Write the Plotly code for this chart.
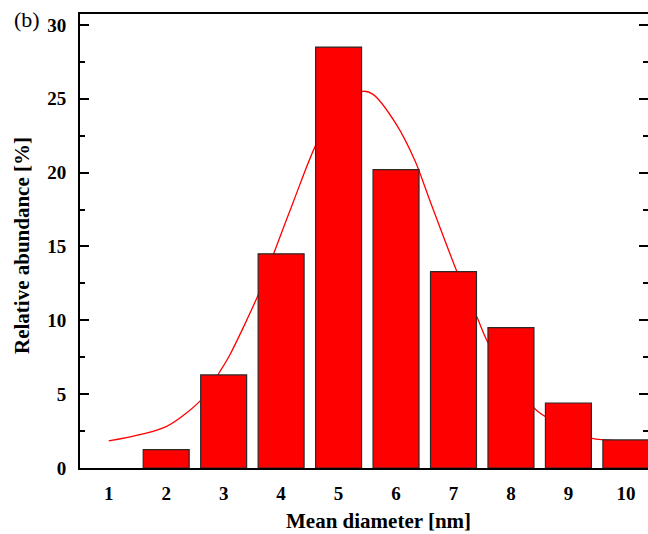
import plotly.graph_objects as go

# Histogram data (bars)
diameters = [2, 3, 4, 5, 6, 7, 8, 9, 10]
abundance = [1.25, 6.3, 14.5, 28.5, 20.2, 13.3, 9.5, 4.4, 1.9]

# Fitted curve
fit_x = [1.0, 2.0, 2.63, 2.93, 3.1, 3.61, 3.87, 4.22, 4.62, 5.0, 5.42, 5.6, 6.0, 6.33, 6.59, 7.07, 7.41, 7.6, 8.0, 8.42, 8.63, 9.0, 9.41, 9.62, 10.0]
fit_y = [1.83, 2.8, 4.7, 6.5, 7.6, 11.8, 14.5, 18.1, 22.0, 24.3, 25.5, 25.3, 23.3, 20.8, 18.1, 13.2, 10.2, 8.5, 6.2, 4.0, 3.4, 2.6, 2.0, 1.9, 1.8]

x_ticks = [1, 2, 3, 4, 5, 6, 7, 8, 9, 10]
y_ticks = [0, 5, 10, 15, 20, 25, 30]

X_RANGE = [0.5, 10.385]
Y_RANGE = [0, 30.74]

FONT = "Liberation Serif"

fig = go.Figure()

# curve first, on the base subplot (drawn below bars)
fig.add_trace(go.Scatter(
    x=fit_x, y=fit_y, mode="lines",
    line=dict(color="#ff0000", width=1.3, shape="spline", smoothing=0.8),
    xaxis="x", yaxis="y", showlegend=False, hoverinfo="skip",
))

# bars on overlay subplot (drawn above)
fig.add_trace(go.Bar(
    x=diameters, y=abundance, width=0.8,
    marker=dict(color="#ff0000", line=dict(color="#2a2a2a", width=1.2)),
    xaxis="x2", yaxis="y2", showlegend=False,
))

fig.update_layout(
    width=648, height=534,
    margin=dict(l=80, r=0, t=14, b=66),
    paper_bgcolor="white", plot_bgcolor="white",
    font=dict(family=FONT, color="black"),
    xaxis=dict(
        range=X_RANGE, tickmode="array", tickvals=x_ticks,
        ticks="", showgrid=False, zeroline=False,
        showline=True, linecolor="black", linewidth=2, mirror=True,
        tickfont=dict(family=FONT, size=19, color="black", weight="bold"),
        ticklabelstandoff=7,
    ),
    yaxis=dict(
        range=Y_RANGE, tickmode="array", tickvals=y_ticks,
        ticks="inside", ticklen=9, tickwidth=2, tickcolor="black",
        minor=dict(dtick=2.5, ticks="inside", ticklen=5, tickwidth=1.5, tickcolor="black", showgrid=False),
        showgrid=False, zeroline=False,
        showline=True, linecolor="black", linewidth=2,
        tickfont=dict(family=FONT, size=19, color="black", weight="bold"),
        ticklabelstandoff=8,
    ),
    xaxis2=dict(
        range=X_RANGE, overlaying="x", visible=False,
    ),
    yaxis2=dict(
        range=Y_RANGE, overlaying="y", side="right",
        tickmode="array", tickvals=y_ticks,
        ticks="inside", ticklen=9, tickwidth=2, tickcolor="black",
        minor=dict(dtick=2.5, ticks="inside", ticklen=5, tickwidth=1.5, tickcolor="black", showgrid=False),
        showticklabels=False, showline=False, showgrid=False, zeroline=False,
    ),
    annotations=[
        dict(text="Mean diameter [nm]", xref="paper", yref="paper",
             x=(378 - 80) / 568, y=(468 - 521) / 454, xanchor="center", yanchor="middle",
             showarrow=False, font=dict(family=FONT, size=21, color="black", weight="bold")),
        dict(text="Relative abundance [%]", xref="paper", yref="paper",
             x=(22 - 80) / 568, y=(468 - 246) / 454, xanchor="center", yanchor="middle",
             textangle=-90, showarrow=False,
             font=dict(family=FONT, size=21, color="black", weight="bold")),
        dict(text="(b)", xref="paper", yref="paper",
             x=(12 - 80) / 568, y=(468 - 20) / 454, xanchor="left", yanchor="middle",
             showarrow=False, font=dict(family=FONT, size=22, color="black")),
    ],
)

fig.write_html("out.html")
